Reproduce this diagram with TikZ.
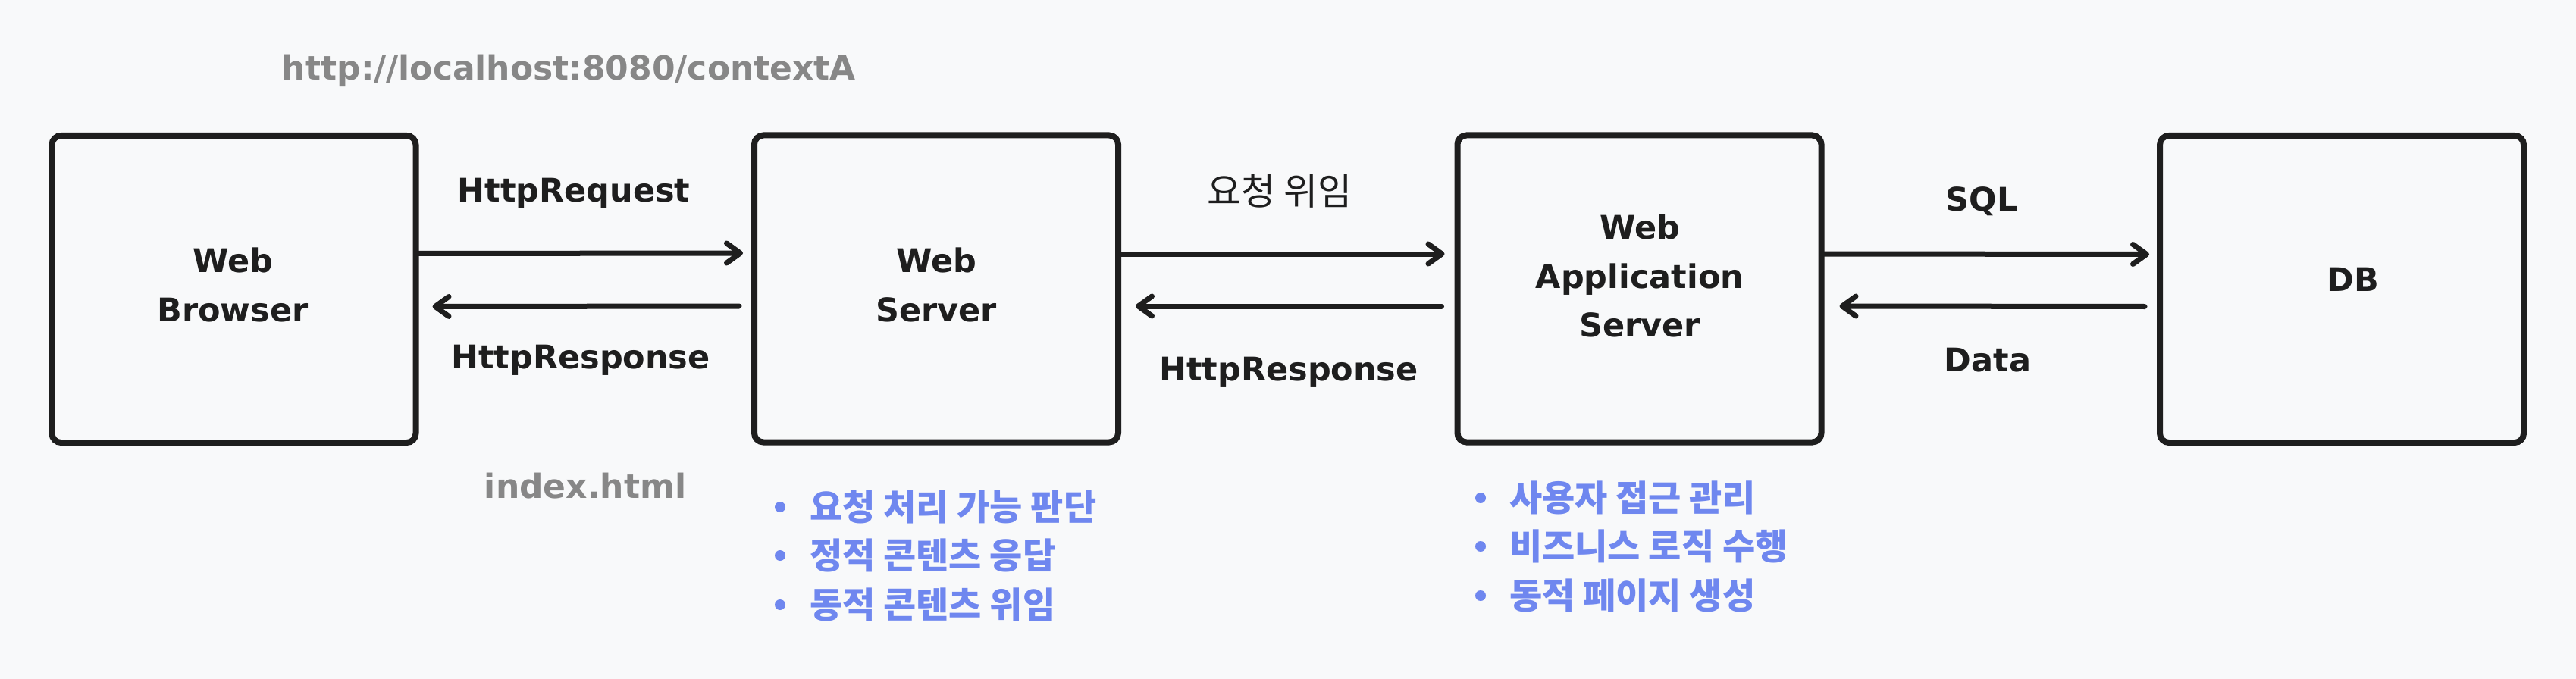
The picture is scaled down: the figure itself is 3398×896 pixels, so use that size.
\documentclass[tikz,border=0pt]{standalone}
\usepackage{fontspec}
\setmainfont{DejaVu Sans}
\newfontfamily\cjk{Noto Sans CJK KR}
\usetikzlibrary{arrows.meta}
\definecolor{bgcol}{HTML}{F8F9FA}
\definecolor{ink}{HTML}{1E1E1E}
\definecolor{notegray}{HTML}{878787}
\definecolor{bulblue}{HTML}{6F87EF}
\begin{document}
\begin{tikzpicture}[x=1pt,y=-1pt,
  sysbox/.style={draw=ink, line width=8pt, rounded corners=12pt, minimum width=480pt, minimum height=405pt, inner sep=0pt, outer sep=0pt},
  boxlbl/.style={text=ink, font=\bfseries\fontsize{43}{64.5}\selectfont, align=center, inner sep=0pt},
  flowlbl/.style={text=ink, font=\bfseries\fontsize{43}{52}\selectfont, anchor=base, inner sep=0pt},
  notetxt/.style={text=notegray, font=\bfseries\fontsize{44}{52}\selectfont, anchor=base, inner sep=0pt},
  krlbl/.style={text=ink, font=\cjk\fontsize{49}{56}\selectfont, inner sep=0pt},
  arr/.style={draw=ink, line width=7pt, line cap=round, -{Straight Barb[length=18pt,width=26pt,round]}},
  bulletitem/.style={text=bulblue, font=\cjk\bfseries\fontsize{47}{54}\selectfont, anchor=west, inner sep=0pt},
  bulletdot/.style={circle, fill=bulblue, minimum size=14pt, inner sep=0pt}
]
\fill[bgcol] (0,0) rectangle (3398,896);
\useasboundingbox (0,0) rectangle (3398,896);

% boxes
\node[sysbox] (browser) at (308.5,381.5) {};
\node[sysbox] (web) at (1235,381) {};
\node[sysbox] (was) at (2162.5,381) {};
\node[sysbox] (db) at (3089,381.5) {};

% box labels
\node[boxlbl] (browserlbl) at (307,376) {Web\\Browser};
\node[boxlbl] (weblbl) at (1235,376) {Web\\Server};
\node[boxlbl] (waslbl) at (2163,364) {Web\\Application\\Server};
\node[boxlbl] (dblbl) at (3104,369) {DB};

% arrows
\draw[arr] ([yshift=47pt]browser.east) -- ([xshift=-15pt,yshift=47pt]web.west);
\draw[arr] ([xshift=-20pt,yshift=-23pt]web.west) -- ([xshift=22pt,yshift=-23pt]browser.east);
\draw[arr] ([yshift=46pt]web.east) -- ([xshift=-17pt,yshift=46pt]was.west);
\draw[arr] ([xshift=-21pt,yshift=-23pt]was.west) -- ([xshift=23pt,yshift=-23pt]web.east);
\draw[arr] ([yshift=46pt]was.east) -- ([xshift=-14pt,yshift=46pt]db.west);
\draw[arr] ([xshift=-20pt,yshift=-23pt]db.west) -- ([xshift=24pt,yshift=-23pt]was.east);

% connector labels
\node[notetxt] (url) at (750,106) {http://localhost:8080/contextA};
\node[flowlbl] (req) at (757,266) {HttpRequest};
\node[flowlbl] (res1) at (766,486) {HttpResponse};
\node[notetxt] (idx) at (772,657) {index.html};
\node[krlbl] (deleg) at (1688,252) {요청 위임};
\node[flowlbl] (res2) at (1700,502) {HttpResponse};
\node[flowlbl] (sql) at (2614,278) {SQL};
\node[flowlbl] (data) at (2622,490) {Data};

% web server bullets
\node[bulletdot] (wsd1) at (1029,669) {};
\node[bulletitem] (ws1) at (1068,669) {요청 처리 가능 판단};
\node[bulletdot] (wsd2) at (1029,733) {};
\node[bulletitem] (ws2) at (1068,733) {정적 콘텐츠 응답};
\node[bulletdot] (wsd3) at (1029,798) {};
\node[bulletitem] (ws3) at (1068,798) {동적 콘텐츠 위임};

% WAS bullets
\node[bulletdot] (wad1) at (1953,657) {};
\node[bulletitem] (wa1) at (1991,657) {사용자 접근 관리};
\node[bulletdot] (wad2) at (1953,721) {};
\node[bulletitem] (wa2) at (1991,721) {비즈니스 로직 수행};
\node[bulletdot] (wad3) at (1953,786) {};
\node[bulletitem] (wa3) at (1991,786) {동적 페이지 생성};
\end{tikzpicture}
\end{document}
